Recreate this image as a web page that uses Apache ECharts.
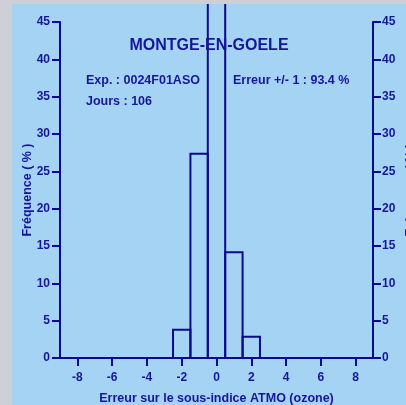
<!DOCTYPE html>
<html>
<head>
<meta charset="utf-8">
<script src="https://cdn.jsdelivr.net/npm/echarts@6/dist/echarts.min.js"></script>
<style>
  html, body { margin: 0; padding: 0; background: #cdd0d6; width: 406px; height: 405px; overflow: hidden; }
  #chart { position: absolute; left: 12px; top: 4px; width: 394px; height: 401px; background: #a5d3f3; }
</style>
</head>
<body>
<div id="chart"></div>
<script>
// Error classes of the ATMO ozone sub-index (forecast - observed)
const errorClasses = [-2, -1, 0, 1, 2];
// Frequency of each class, in % of the 106 days
const frequencies = [3.77, 27.36, 51.89, 14.15, 2.83];
// Tick labels on the horizontal axis
const xTickValues = [-8, -6, -4, -2, 0, 2, 4, 6, 8];

const stationName = 'MONTGE-EN-GOELE';
const expLabel = 'Exp. : 0024F01ASO';
const daysLabel = 'Jours : 106';
const scoreLabel = 'Erreur +/- 1 : 93.4 %';

const ink = '#0a0a8c';
const textInk = '#16169a';
const font = '"Liberation Sans", Arial, Helvetica, sans-serif';

const chart = echarts.init(document.getElementById('chart'), null, { renderer: 'canvas' });

const labelStyle = { color: textInk, fontFamily: font, fontWeight: 'bold', fontSize: 12 };
const nameStyle = { color: textInk, fontFamily: font, fontWeight: 'bold', fontSize: 12.5 };

const yAxisCommon = {
  type: 'value',
  min: 0,
  max: 45,
  interval: 5,
  splitLine: { show: false },
  axisLine: { show: true, onZero: false, lineStyle: { color: ink, width: 2 } },
  axisTick: { show: true, length: 8, lineStyle: { color: ink, width: 2 } },
  nameLocation: 'middle',
  nameRotate: 90,
  nameMoveOverlap: false,
  nameTextStyle: nameStyle
};

chart.setOption({
  animation: false,
  textStyle: { fontFamily: font },
  title: {
    text: stationName,
    left: 'center',
    top: 29,
    textStyle: { color: textInk, fontFamily: font, fontWeight: 'bold', fontSize: 16 }
  },
  grid: { left: 48, right: 33, top: 18, bottom: 47, containLabel: false, outerBoundsMode: 'none' },
  xAxis: {
    type: 'value',
    min: -9,
    max: 9,
    splitLine: { show: false },
    axisLine: { show: true, onZero: false, lineStyle: { color: ink, width: 2 } },
    axisTick: { show: true, length: 8, customValues: xTickValues, lineStyle: { color: ink, width: 2 } },
    axisLabel: Object.assign({ customValues: xTickValues, margin: 14 }, labelStyle),
    name: 'Erreur sur le sous-indice ATMO (ozone)',
    nameLocation: 'middle',
    nameGap: 34,
    nameMoveOverlap: false,
    nameTextStyle: nameStyle
  },
  yAxis: [
    Object.assign({}, yAxisCommon, {
      position: 'left',
      name: 'Fréquence ( % )',
      nameGap: 26,
      axisLabel: Object.assign({ margin: 10 }, labelStyle)
    }),
    Object.assign({}, yAxisCommon, {
      position: 'right',
      name: 'Fréquence ( % )',
      nameGap: 31,
      axisLabel: Object.assign({ margin: 9 }, labelStyle)
    })
  ],
  graphic: [
    { type: 'text', left: 74, top: 70, style: { text: expLabel, fill: textInk, font: 'bold 12.5px ' + font } },
    { type: 'text', left: 74, top: 91, style: { text: daysLabel, fill: textInk, font: 'bold 12.5px ' + font } },
    { type: 'text', left: 221, top: 70, style: { text: scoreLabel, fill: textInk, font: 'bold 12.5px ' + font } }
  ],
  series: [{
    type: 'custom',
    clip: false,
    yAxisIndex: 0,
    data: errorClasses.map((c, i) => [c, frequencies[i]]),
    renderItem: function (params, api) {
      const c = api.value(0);
      const f = api.value(1);
      const base = api.coord([c - 0.5, 0]);
      const top = api.coord([c + 0.5, f]);
      return {
        type: 'rect',
        shape: { x: base[0], y: top[1], width: top[0] - base[0], height: base[1] - top[1] },
        style: { fill: 'none', stroke: ink, lineWidth: 2 }
      };
    }
  }]
});
</script>
</body>
</html>
